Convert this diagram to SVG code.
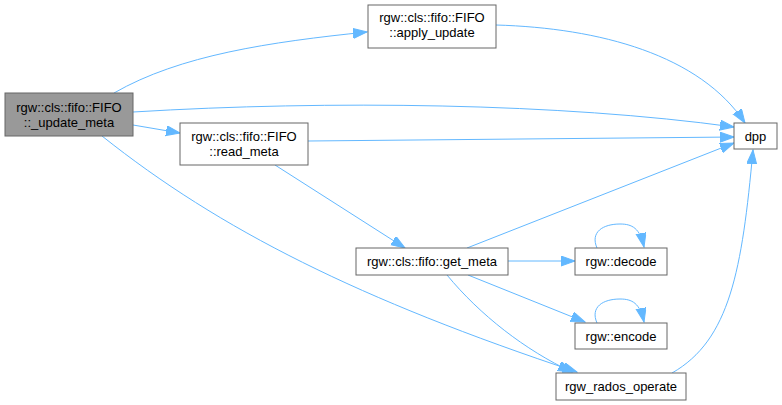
<svg xmlns="http://www.w3.org/2000/svg" width="782" height="405" viewBox="0 0 782 405">
<style>
.n rect{fill:#fff;stroke:#666;stroke-width:1}
.n.sel rect{fill:#999}
.n text{font-family:"Liberation Sans",Arial,sans-serif;font-size:13px;text-anchor:middle;fill:#000}
.e path{fill:none;stroke:#63b8ff;stroke-width:1;marker-end:url(#ah)}
</style>
<defs>
<marker id="ah" markerUnits="userSpaceOnUse" markerWidth="15" markerHeight="11" refX="14" refY="5" orient="auto">
<path d="M0,0 L14,5 L0,10 z" fill="#63b8ff" stroke="#63b8ff" stroke-width="1"/>
</marker>
</defs>
<rect width="782" height="405" fill="#fff"/>
<g id="edges" class="e">
<path d="M114,93 C180,55 270,42 367,32"/>
<path d="M133,112 C330,100 560,103 734,127"/>
<path d="M133,125 L180,133"/>
<path d="M102,136 C220,230 360,300 577,372"/>
<path d="M308,141 L734,137"/>
<path d="M275,165 L405,248"/>
<path d="M467,248 L734,143"/>
<path d="M508,261 L575,261"/>
<path d="M468,275 L585,322"/>
<path d="M447,275 C480,315 525,350 572,372"/>
<path d="M597,248 C590,232 603,224 620,224 C632,224 640,228 644,247"/>
<path d="M597,323 C590,307 603,299 620,299 C632,299 640,303 644,322"/>
<path d="M672,373 C730,340 742,270 753,150"/>
<path d="M496,25 C600,28 700,55 745,123"/>
</g>
<g id="node-update-meta" class="n sel"><rect x="5" y="93" width="128" height="43"/><text x="69" y="112">rgw::cls::fifo::FIFO</text><text x="69" y="127">::_update_meta</text></g>
<g id="node-apply-update" class="n"><rect x="368" y="5" width="128" height="43"/><text x="432" y="22">rgw::cls::fifo::FIFO</text><text x="432" y="37">::apply_update</text></g>
<g id="node-read-meta" class="n"><rect x="180" y="123" width="128" height="42"/><text x="244" y="141">rgw::cls::fifo::FIFO</text><text x="244" y="156">::read_meta</text></g>
<g id="node-dpp" class="n"><rect x="734" y="123" width="43" height="26"/><text x="755.5" y="141">dpp</text></g>
<g id="node-get-meta" class="n"><rect x="356" y="248" width="152" height="27"/><text x="432" y="266">rgw::cls::fifo::get_meta</text></g>
<g id="node-decode" class="n"><rect x="575" y="248" width="92" height="27"/><text x="621" y="266">rgw::decode</text></g>
<g id="node-encode" class="n"><rect x="575" y="323" width="92" height="26"/><text x="621" y="341">rgw::encode</text></g>
<g id="node-rados-operate" class="n"><rect x="556" y="373" width="130" height="27"/><text x="621" y="391">rgw_rados_operate</text></g>
</svg>
